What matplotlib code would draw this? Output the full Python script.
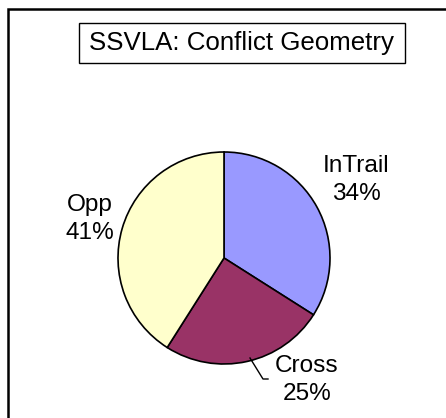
import matplotlib as mpl
mpl.use('Agg')
import matplotlib.pyplot as plt
from matplotlib.patches import Rectangle

plt.rcParams['font.family'] = ['Liberation Sans', 'DejaVu Sans']

title = "SSVLA: Conflict Geometry"
categories = ["InTrail", "Cross", "Opp"]
shares = [34, 25, 41]
colors = ["#9999FF", "#993366", "#FFFFCC"]

W, H = 446, 418
titlesize = 18.6
labelsize = 17.6

fig = plt.figure(figsize=(W / 100, H / 100), dpi=100)
ax = fig.add_axes([0, 0, 1, 1])

# pie
cx, cy, r = 224, H - 258, 106
ax.pie(shares, colors=colors, startangle=90, counterclock=False,
       center=(cx, cy), radius=r, frame=True,
       wedgeprops=dict(edgecolor='black', linewidth=1.2))
ax.set_xlim(0, W)
ax.set_ylim(0, H)
ax.set_aspect('equal')
ax.axis('off')

# outer chart border (right/bottom run off the image)
ax.plot([8, 8, W + 10], [-10, H - 9, H - 9], color='black', lw=1.8,
        solid_joinstyle='miter')

# title box
ax.add_patch(Rectangle((79, H - 63), 326, 40, fill=False, lw=1.0, ec='black'))
ax.text(241.5, H - 43, title, ha='center', va='center', fontsize=titlesize)

# labels
label_pos = {"InTrail": (356, H - 180), "Cross": (307, H - 380), "Opp": (90, H - 219)}
for name, val in zip(categories, shares):
    x, y = label_pos[name]
    ax.text(x, y, "%s\n%d%%" % (name, val), ha='center', va='center',
            fontsize=labelsize, linespacing=1.38)

# leader line for Cross
ax.plot([250, 263, 268], [H - 358, H - 379, H - 379], color='black', lw=1.0)

plt.savefig("out.png", dpi=100)
